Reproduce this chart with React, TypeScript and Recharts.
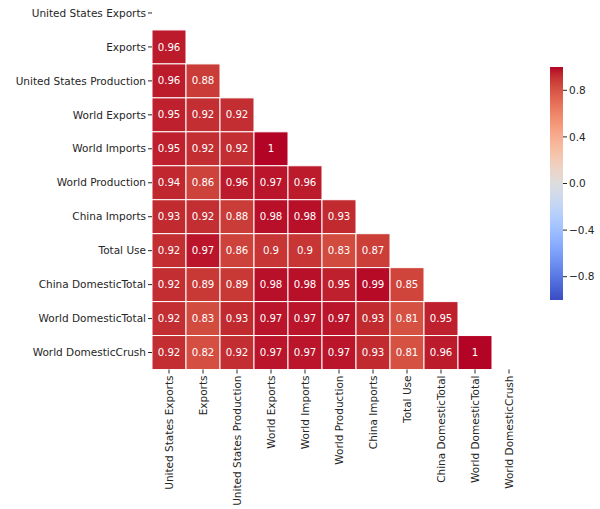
import { BarChart, Bar, XAxis, YAxis } from 'recharts'

const rowNames = [
  'United States Exports',
  'Exports',
  'United States Production',
  'World Exports',
  'World Imports',
  'World Production',
  'China Imports',
  'Total Use',
  'China DomesticTotal',
  'World DomesticTotal',
  'World DomesticCrush',
]

// lower triangle of the correlation matrix, one array per row
const usExportsCorr: number[] = []
const exportsCorr = [0.96]
const usProductionCorr = [0.96, 0.88]
const worldExportsCorr = [0.95, 0.92, 0.92]
const worldImportsCorr = [0.95, 0.92, 0.92, 1]
const worldProductionCorr = [0.94, 0.86, 0.96, 0.97, 0.96]
const chinaImportsCorr = [0.93, 0.92, 0.88, 0.98, 0.98, 0.93]
const totalUseCorr = [0.92, 0.97, 0.86, 0.9, 0.9, 0.83, 0.87]
const chinaDomesticCorr = [0.92, 0.89, 0.89, 0.98, 0.98, 0.95, 0.99, 0.85]
const worldDomesticCorr = [0.92, 0.83, 0.93, 0.97, 0.97, 0.97, 0.93, 0.81, 0.95]
const worldCrushCorr = [0.92, 0.82, 0.92, 0.97, 0.97, 0.97, 0.93, 0.81, 0.96, 1]

const lowerTriangle = [
  usExportsCorr, exportsCorr, usProductionCorr, worldExportsCorr, worldImportsCorr,
  worldProductionCorr, chinaImportsCorr, totalUseCorr, chinaDomesticCorr,
  worldDomesticCorr, worldCrushCorr,
]

const colorbarTicks = [-0.8, -0.4, 0, 0.4, 0.8]

// matplotlib coolwarm, sampled every 1/32
const COOLWARM = [
  [59, 76, 192], [68, 90, 204], [77, 104, 215], [87, 117, 225], [98, 130, 234],
  [108, 142, 241], [119, 154, 247], [130, 165, 251], [141, 176, 254], [152, 185, 255],
  [163, 194, 255], [174, 201, 253], [184, 208, 249], [194, 213, 244], [204, 217, 238],
  [213, 219, 230], [221, 221, 221], [229, 216, 209], [236, 211, 197], [241, 204, 184],
  [245, 196, 172], [247, 187, 160], [247, 177, 148], [247, 166, 137], [244, 154, 123],
  [241, 141, 111], [236, 127, 99], [229, 112, 88], [222, 96, 77], [213, 80, 66],
  [203, 62, 56], [192, 40, 47], [180, 4, 38],
]

function coolwarm(v: number) {
  const t = Math.min(1, Math.max(0, (v + 1) / 2)) * (COOLWARM.length - 1)
  const i = Math.min(COOLWARM.length - 2, Math.floor(t))
  const f = t - i
  const c = COOLWARM[i].map((a, k) => Math.round(a + (COOLWARM[i + 1][k] - a) * f))
  return `rgb(${c[0]},${c[1]},${c[2]})`
}

const FONT = 'DejaVu Sans, Verdana, sans-serif'
const TEXT = '#262626'
const TICK_FONT = 10.5

// every row is a stack of unit-width segments, one per shown cell
const cellData = rowNames.map((name, i) => {
  const row: Record<string, string | number> = { name }
  rowNames.forEach((_, j) => {
    row[`c${j}`] = j < i ? 1 : 0
  })
  return row
})

const renderCell = (col: number) => (props: any) => {
  const { x, y, width, height, index } = props
  const r = lowerTriangle[index]?.[col]
  if (r === undefined || !width) return <g />
  return (
    <g>
      <rect x={x} y={y} width={width} height={height} fill={coolwarm(r)} stroke="#fff" strokeWidth={1} />
      <text
        x={x + width / 2}
        y={y + height / 2}
        dy="0.35em"
        textAnchor="middle"
        fill="#fff"
        fontSize={10.2}
        fontFamily={FONT}
      >
        {String(r)}
      </text>
    </g>
  )
}

const ColumnTick = ({ x, y, payload }: any) => (
  <text
    transform={`translate(${x},${y}) rotate(-90)`}
    textAnchor="end"
    dy="0.35em"
    fill={TEXT}
    fontSize={TICK_FONT}
    fontFamily={FONT}
  >
    {rowNames[Math.floor(payload.value)]}
  </text>
)

const RowTick = ({ x, y, payload }: any) => (
  <text x={x} y={y} dy="0.35em" textAnchor="end" fill={TEXT} fontSize={TICK_FONT} fontFamily={FONT}>
    {payload.value}
  </text>
)

const ColorbarTick = ({ x, y, payload }: any) => (
  <text x={x} y={y} dy="0.35em" textAnchor="start" fill={TEXT} fontSize={TICK_FONT} fontFamily={FONT}>
    {Number(payload.value).toFixed(1).replace('-', '\u2212')}
  </text>
)

const columnTicks = rowNames.map((_, j) => j + 0.5)

// top of the bar is +1, bottom is -1
const gradientStops = [...COOLWARM].reverse().map((c, i, arr) => ({
  offset: `${(i / (arr.length - 1)) * 100}%`,
  color: `rgb(${c[0]},${c[1]},${c[2]})`,
}))

const colorbarData = [{ k: 'r', span: [-1, 1] }]

export default function App() {
  return (
    <div style={{ position: 'fixed', left: 0, top: 0, width: 600, height: 509, background: '#fff' }}>
      <BarChart
        width={600}
        height={509}
        data={cellData}
        layout="vertical"
        barCategoryGap={0}
        margin={{ top: -4, right: 74, bottom: 0, left: 0 }}
      >
        <XAxis
          type="number"
          domain={[0, rowNames.length]}
          ticks={columnTicks}
          interval={0}
          height={139.5}
          tick={<ColumnTick />}
          tickSize={4}
          tickMargin={2}
          tickLine={{ stroke: TEXT }}
          axisLine={false}
        />
        <YAxis
          type="category"
          dataKey="name"
          width={152}
          interval={0}
          tickSize={4}
          tickMargin={2}
          tick={<RowTick />}
          tickLine={{ stroke: TEXT }}
          axisLine={false}
        />
        {rowNames.map((_, j) => (
          <Bar
            key={j}
            dataKey={`c${j}`}
            stackId="m"
            isAnimationActive={false}
            shape={renderCell(j)}
          />
        ))}
      </BarChart>

      <div style={{ position: 'absolute', left: 540, top: 0 }}>
        <BarChart
          width={70}
          height={509}
          data={colorbarData}
          barCategoryGap={0}
          margin={{ top: 67, right: 0, bottom: 209, left: 10 }}
        >
          <defs>
            <linearGradient id="cw" x1="0" y1="0" x2="0" y2="1">
              {gradientStops.map((s, i) => (
                <stop key={i} offset={s.offset} stopColor={s.color} />
              ))}
            </linearGradient>
          </defs>
          <XAxis dataKey="k" hide />
          <YAxis
            orientation="right"
            type="number"
            domain={[-1, 1]}
            ticks={colorbarTicks}
            width={47}
            tickSize={4}
            tickMargin={2}
            tick={<ColorbarTick />}
            tickLine={{ stroke: TEXT }}
            axisLine={false}
          />
          <Bar dataKey="span" fill="url(#cw)" isAnimationActive={false} />
        </BarChart>
      </div>
    </div>
  )
}
